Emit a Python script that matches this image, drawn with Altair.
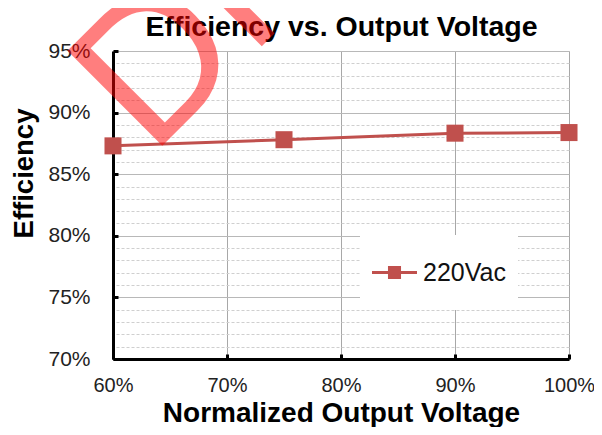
import altair as alt
import pandas as pd

# ---- data ----
voltage = [0.60, 0.75, 0.90, 1.00]
efficiency = [0.873, 0.878, 0.8833, 0.8838]
series = ["220Vac"] * 4
x_ticks = [0.6, 0.7, 0.8, 0.9, 1.0]
y_major = [0.70, 0.75, 0.80, 0.85, 0.90, 0.95]
y_minor = [v / 100 for v in range(71, 95) if v % 5 != 0]
watermark = ["DRAFT"]
chart_title = "Efficiency vs. Output Voltage"

df = pd.DataFrame({"v": voltage, "eff": efficiency, "s": series})
wm = pd.DataFrame({"t": watermark})

FONT = "Liberation Sans"
RED = "#C0504D"
W, H = 456, 308

xs = alt.Scale(domain=[0.6, 1.0], nice=False, zero=False)
ys = alt.Scale(domain=[0.70, 0.95], nice=False, zero=False)

# layer A: minor dashed grid + chart title (as a top axis title)
minor = alt.Chart(df).mark_line(opacity=0).encode(
    x=alt.X("v:Q", scale=xs, axis=alt.Axis(
        orient="top", values=[], grid=False, labels=False, ticks=False,
        domain=False, title=chart_title, titleFont=FONT, titleFontSize=28.5,
        titleFontWeight="bold", titleColor="black", titleX=W / 2,
        titleY=-16, titleAlign="center", titleBaseline="alphabetic")),
    y=alt.Y("eff:Q", scale=ys, axis=alt.Axis(
        orient="right", values=y_minor, grid=True, gridColor="#CFCFCF",
        gridDash=[3, 2], gridWidth=1, labels=False, ticks=False,
        domain=False, title=None)),
)

# layer B: main line + main axes
line = alt.Chart(df).mark_line(color=RED, strokeWidth=3).encode(
    x=alt.X("v:Q", scale=xs, axis=alt.Axis(
        orient="bottom", values=x_ticks, format=".0%", grid=True,
        gridColor="#A8A8A8", gridWidth=1, domainColor="black", domainWidth=3,
        ticks=False, tickSize=0, labelFont=FONT, labelFontSize=20,
        labelColor="#222", labelPadding=16, labelFlush=False,
        labelOverlap=False, title="Normalized Output Voltage",
        titleFont=FONT, titleFontSize=28, titleFontWeight="bold",
        titleColor="black", titleX=W / 2, titleY=62, titleAlign="center",
        titleBaseline="alphabetic")),
    y=alt.Y("eff:Q", scale=ys, axis=alt.Axis(
        orient="left", values=y_major, format=".0%", grid=True,
        gridColor="#B8B8B8", gridWidth=1.2, domainColor="black", domainWidth=3,
        ticks=False, tickSize=0, labelFont=FONT, labelFontSize=21,
        labelColor="#222", labelPadding=23, labelFlush=False,
        labelOverlap=False, title="Efficiency",
        titleFont=FONT, titleFontSize=27.5, titleFontWeight="bold",
        titleColor="black", titleX=-81, titleY=122, titleAngle=270,
        titleAlign="center", titleBaseline="alphabetic")),
)

# layer C: square markers, inward ticks, legend
LEG_PATH = "M-1,-0.067H1V0.067H-1Z M-0.29,-0.29H0.29V0.29H-0.29Z"
points = alt.Chart(df).mark_point(filled=True, shape="square", size=290,
                                  opacity=1).encode(
    x=alt.X("v:Q", scale=xs, axis=alt.Axis(
        orient="bottom", values=x_ticks, offset=-5, tickSize=5, tickWidth=3,
        tickColor="black", domain=False, labels=False, grid=False, title=None)),
    y=alt.Y("eff:Q", scale=ys, axis=alt.Axis(
        orient="left", values=y_major, offset=-5, tickSize=5, tickWidth=3,
        tickColor="black", domain=False, labels=False, grid=False, title=None)),
    color=alt.Color("s:N", scale=alt.Scale(range=[RED]), legend=alt.Legend(
        title=None, orient="none", legendX=247, legendY=184,
        fillColor="white", padding=12, clipHeight=51, symbolType=LEG_PATH,
        symbolSize=2025, symbolStrokeWidth=0, symbolOpacity=1,
        labelFont=FONT, labelFontSize=25, labelColor="#111", labelOffset=6)),
)

# layer D: watermark
mark = alt.Chart(wm).mark_text(
    angle=315, align="left", baseline="alphabetic", font=FONT,
    fontSize=195, color="#FF0000", opacity=0.5,
).encode(text="t:N", x=alt.value(38), y=alt.value(106))

chart = alt.layer(minor, line, points, mark).resolve_axis(
    x="independent", y="independent"
).properties(
    width=W, height=H,
    autosize=alt.AutoSizeParams(type="none"),
    padding={"left": 105, "top": 43, "right": 25, "bottom": 68},
).configure_view(stroke=None).configure(background="white")

chart.save("out.html", embed_options={"renderer": "svg", "actions": False})
